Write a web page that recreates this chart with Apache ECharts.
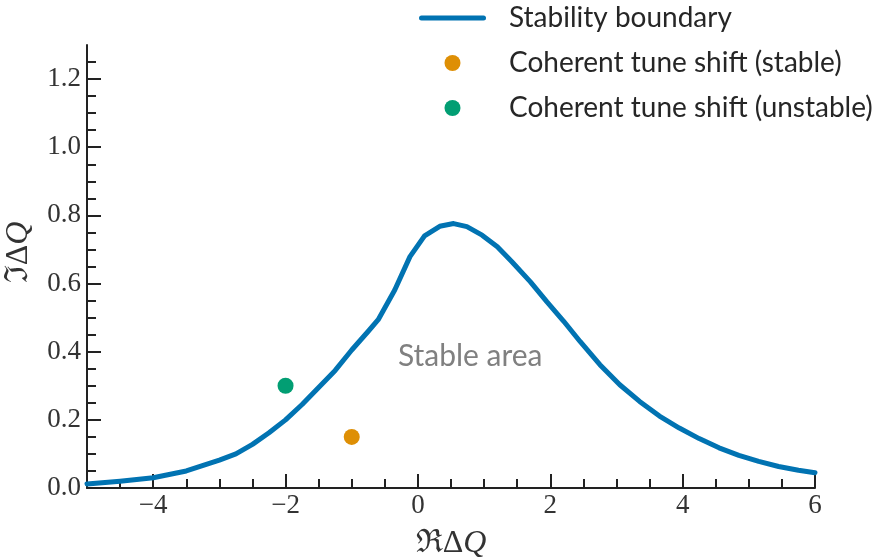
<!DOCTYPE html>
<html><head><meta charset="utf-8">
<script src="https://cdn.jsdelivr.net/npm/echarts@6/dist/echarts.min.js"></script>
<style>html,body{margin:0;padding:0;background:#fff}#c{width:882px;height:559px}</style>
</head><body><div id="c"></div>
<script>
// Stability boundary (Re dQ, Im dQ)
const boundaryX = [-5.0, -4.5, -4.0, -3.5, -3.0, -2.75, -2.5, -2.25, -2.0, -1.75, -1.5, -1.25, -1.0, -0.75, -0.6, -0.35, -0.12, 0.1, 0.33, 0.54, 0.74, 0.97, 1.2, 1.42, 1.7, 1.95, 2.2, 2.45, 2.75, 3.05, 3.35, 3.65, 3.95, 4.25, 4.55, 4.85, 5.15, 5.45, 5.75, 6.0];
const boundaryY = [0.012, 0.020, 0.030, 0.050, 0.082, 0.100, 0.128, 0.162, 0.200, 0.245, 0.295, 0.345, 0.405, 0.460, 0.494, 0.581, 0.679, 0.740, 0.768, 0.776, 0.767, 0.742, 0.708, 0.664, 0.605, 0.546, 0.490, 0.430, 0.362, 0.303, 0.254, 0.211, 0.176, 0.145, 0.118, 0.096, 0.078, 0.063, 0.052, 0.045];
const stableShift = [[-1.0, 0.15]];
const unstableShift = [[-2.0, 0.30]];
const annotationPos = [[0.79, 0.385]];
const annotationText = 'Stable area';
const seriesNames = ['Stability boundary', 'Coherent tune shift (stable)', 'Coherent tune shift (unstable)'];
const xMajorTicks = [-4, -2, 0, 2, 4, 6];
const xMinorTicks = [-4.5, -3.5, -3, -2.5, -1.5, -1, -0.5, 0.5, 1, 1.5, 2.5, 3, 3.5, 4.5, 5, 5.5];
const yMajorTicks = [0, 0.2, 0.4, 0.6, 0.8, 1.0, 1.2];
const yMinorTicks = [0.05, 0.1, 0.15, 0.25, 0.3, 0.35, 0.45, 0.5, 0.55, 0.65, 0.7, 0.75, 0.85, 0.9, 0.95, 1.05, 1.1, 1.15, 1.25];

const serif = '"Liberation Serif", "DejaVu Serif", serif';
const sans = 'Lato, "DejaVu Sans", sans-serif';
const ink = '#222';
const lblColor = '#333';
const lineIcon = 'path://M2.5,0 L64.5,0 A2.5,2.5 0 0 1 64.5,5 L2.5,5 A2.5,2.5 0 0 1 2.5,0 Z';

const chart = echarts.init(document.getElementById('c'), null, {renderer: 'canvas'});
const xBase = {type: 'value', min: -5, max: 6, gridIndex: 0, position: 'bottom', splitLine: {show: false}};
const yBase = {type: 'value', min: 0, max: 1.3, gridIndex: 0, position: 'left', splitLine: {show: false}};
const titleRich = {
  r: {fontFamily: serif, fontSize: 32, color: lblColor},
  q: {fontFamily: serif, fontSize: 32, fontStyle: 'italic', color: lblColor}
};
chart.setOption({
  animation: false,
  backgroundColor: '#fff',
  grid: {left: 87, right: 67, top: 45, bottom: 71, containLabel: false, outerBoundsMode: 'none'},
  legend: {
    data: [
      {name: seriesNames[0], icon: lineIcon},
      {name: seriesNames[1]},
      {name: seriesNames[2]}
    ],
    orient: 'vertical', left: 419, top: 3, padding: 0,
    itemWidth: 67, itemHeight: 16, itemGap: 15,
    textStyle: {fontFamily: sans, fontSize: 28, color: '#262626', lineHeight: 30, padding: [0, 0, 0, 18]}
  },
  xAxis: [
    Object.assign({}, xBase, {
      axisLine: {show: true, onZero: false, lineStyle: {color: ink, width: 2}},
      axisTick: {show: true, inside: true, length: 14, lineStyle: {color: ink, width: 2}, customValues: xMajorTicks},
      axisLabel: {show: true, customValues: xMajorTicks, margin: 4, fontFamily: serif, fontSize: 27, color: lblColor,
        formatter: v => String(v).replace('-', '\u2212')},
      name: '{r|\u211C\u0394}{q|Q}', nameLocation: 'middle', nameGap: 40,
      nameTextStyle: {rich: titleRich}
    }),
    Object.assign({}, xBase, {
      axisLine: {show: false, onZero: false},
      axisTick: {show: true, inside: true, length: 9, lineStyle: {color: ink, width: 2}, customValues: xMinorTicks},
      axisLabel: {show: false}
    })
  ],
  yAxis: [
    Object.assign({}, yBase, {
      axisLine: {show: true, onZero: false, lineStyle: {color: ink, width: 2}},
      axisTick: {show: true, inside: true, length: 14, lineStyle: {color: ink, width: 2}, customValues: yMajorTicks},
      axisLabel: {show: true, customValues: yMajorTicks, margin: 6, fontFamily: serif, fontSize: 27, color: lblColor,
        formatter: v => v.toFixed(1)},
      name: '{r|\u2111\u0394}{q|Q}', nameLocation: 'middle', nameGap: 52, nameRotate: 90,
      nameTextStyle: {rich: titleRich, padding: [0, 0, 0, 28]}
    }),
    Object.assign({}, yBase, {
      axisLine: {show: false, onZero: false},
      axisTick: {show: true, inside: true, length: 9, lineStyle: {color: ink, width: 2}, customValues: yMinorTicks},
      axisLabel: {show: false}
    })
  ],
  series: [
    {
      name: seriesNames[0], type: 'line', xAxisIndex: 0, yAxisIndex: 0,
      data: boundaryX.map((x, i) => [x, boundaryY[i]]),
      symbol: 'none', smooth: false,
      lineStyle: {color: '#0173B2', width: 5, cap: 'round', join: 'round'},
      itemStyle: {color: '#0173B2'}, z: 3
    },
    {
      name: seriesNames[1], type: 'scatter', xAxisIndex: 0, yAxisIndex: 0,
      data: stableShift, symbol: 'circle', symbolSize: 16,
      itemStyle: {color: '#DE8F05', opacity: 1}, z: 4
    },
    {
      name: seriesNames[2], type: 'scatter', xAxisIndex: 0, yAxisIndex: 0,
      data: unstableShift, symbol: 'circle', symbolSize: 16,
      itemStyle: {color: '#029E73', opacity: 1}, z: 4
    },
    {
      name: 'annotation', type: 'scatter', xAxisIndex: 0, yAxisIndex: 0,
      data: annotationPos, symbolSize: 0, itemStyle: {color: 'transparent'}, silent: true,
      label: {show: true, position: 'inside', formatter: annotationText, fontFamily: sans, fontSize: 30, color: '#808080', opacity: 1}
    }
  ]
});
</script></body></html>
